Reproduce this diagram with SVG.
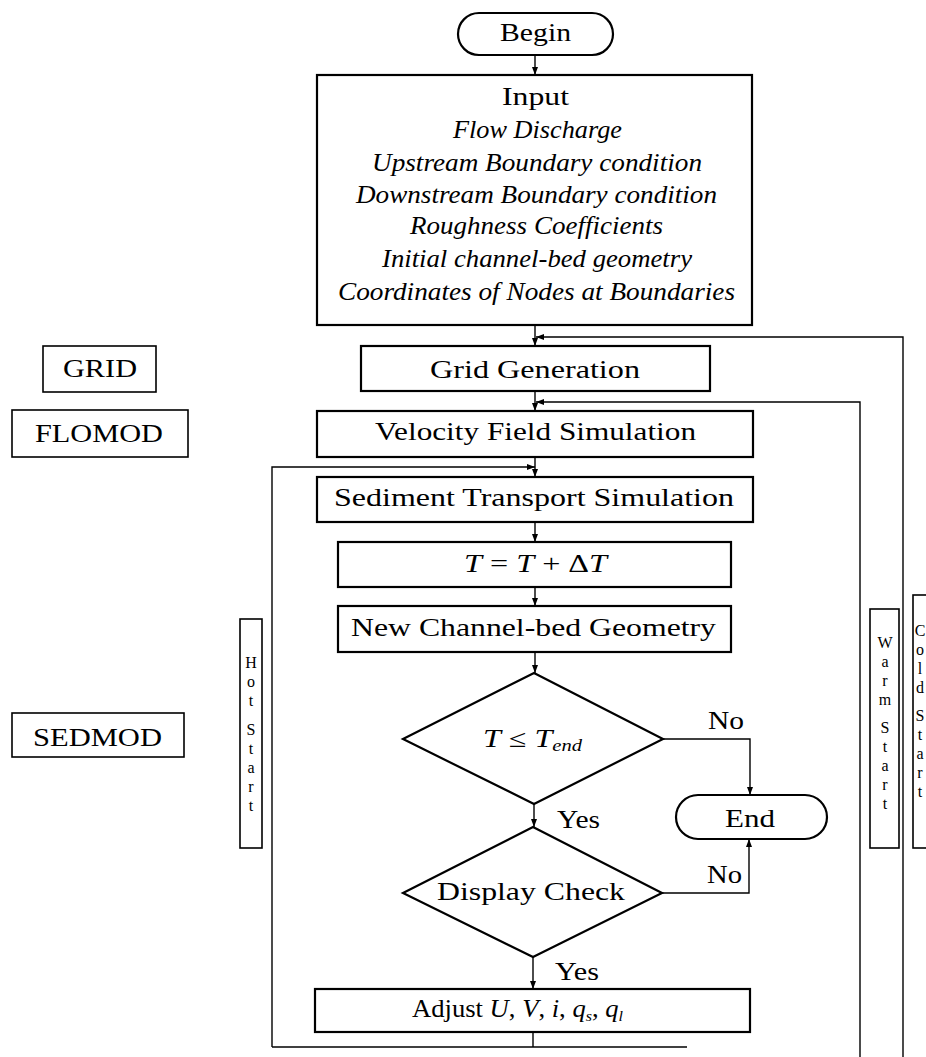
<svg xmlns="http://www.w3.org/2000/svg" width="926" height="1057" viewBox="0 0 926 1057">
<defs>
<marker id="ah" markerUnits="userSpaceOnUse" markerWidth="8" markerHeight="8" viewBox="0 0 8 8" refX="8" refY="4" orient="auto">
<path d="M0,1 L8,4 L0,7 Z" fill="#000"/>
</marker>
<style>
.box{fill:#fff;stroke:#000;stroke-width:2.2}
.lbl{fill:none;stroke:#000;stroke-width:1.6}
.c{fill:none;stroke:#000;stroke-width:1.4}
.a{marker-end:url(#ah)}
text{font-family:"Liberation Serif","DejaVu Serif",serif;font-size:25px;fill:#000}
.it{font-style:italic}
.vt{font-size:16px;text-anchor:middle}
</style>
</defs>
<rect width="926" height="1057" fill="#fff"/>

<g id="connectors">
<path class="c a" d="M535,55 V75"/>
<path class="c a" d="M535,325 V346"/>
<path class="c a" d="M535,391 V411"/>
<path class="c a" d="M535,457 V477"/>
<path class="c a" d="M535,522 V542"/>
<path class="c a" d="M535,587 V606"/>
<path class="c a" d="M535,652 V673"/>
<path class="c a" d="M534,804 V827"/>
<path class="c a" d="M533,957 V989"/>
<path class="c" d="M533,1032 V1047"/>
<path class="c" d="M272,1047 H687"/>
<path class="c a" d="M272,1047 V467 H535"/>
<path class="c a" d="M860,1057 V402 H536"/>
<path class="c a" d="M903,1057 V337 H536"/>
<path class="c a" d="M663,739 H750 V795"/>
<path class="c a" d="M662,893 H749 V839"/>
</g>

<g id="begin">
<rect class="box" x="458" y="13" width="155" height="42" rx="21" ry="21"/>
<text x="500" y="41" textLength="71" lengthAdjust="spacingAndGlyphs">Begin</text>
</g>

<g id="input">
<rect class="box" x="317" y="75" width="435" height="250"/>
<text x="502" y="105" textLength="67" lengthAdjust="spacingAndGlyphs">Input</text>
<text class="it" x="453" y="138" textLength="169" lengthAdjust="spacingAndGlyphs">Flow Discharge</text>
<text class="it" x="372" y="171" textLength="330" lengthAdjust="spacingAndGlyphs">Upstream Boundary condition</text>
<text class="it" x="356" y="203" textLength="361" lengthAdjust="spacingAndGlyphs">Downstream Boundary condition</text>
<text class="it" x="410" y="234" textLength="253" lengthAdjust="spacingAndGlyphs">Roughness Coefficients</text>
<text class="it" x="382" y="267" textLength="310" lengthAdjust="spacingAndGlyphs">Initial channel-bed geometry</text>
<text class="it" x="338" y="300" textLength="397" lengthAdjust="spacingAndGlyphs">Coordinates of Nodes at Boundaries</text>
</g>

<g id="grid-generation">
<rect class="box" x="361" y="346" width="349" height="45"/>
<text x="430" y="378" textLength="210" lengthAdjust="spacingAndGlyphs">Grid Generation</text>
</g>

<g id="velocity">
<rect class="box" x="317" y="411" width="436" height="46"/>
<text x="375" y="440" textLength="321" lengthAdjust="spacingAndGlyphs">Velocity Field Simulation</text>
</g>

<g id="sediment">
<rect class="box" x="317" y="477" width="436" height="45"/>
<text x="334" y="506" textLength="400" lengthAdjust="spacingAndGlyphs">Sediment Transport Simulation</text>
</g>

<g id="time-step">
<rect class="box" x="338" y="542" width="393" height="45"/>
<text x="464" y="572" textLength="143" lengthAdjust="spacingAndGlyphs"><tspan class="it">T</tspan> = <tspan class="it">T</tspan> + Δ<tspan class="it">T</tspan></text>
</g>

<g id="new-geometry">
<rect class="box" x="338" y="606" width="393" height="46"/>
<text x="351" y="636" textLength="365" lengthAdjust="spacingAndGlyphs">New Channel-bed Geometry</text>
</g>

<g id="decision-time">
<polygon class="box" points="534,673 663,739 534,804 403,739"/>
<text x="483" y="747" textLength="99" lengthAdjust="spacingAndGlyphs"><tspan class="it">T</tspan> ≤ <tspan class="it">T</tspan><tspan class="it" font-size="16" dy="4">end</tspan></text>
<text x="708" y="729" textLength="36" lengthAdjust="spacingAndGlyphs">No</text>
<text x="557" y="828" textLength="43" lengthAdjust="spacingAndGlyphs">Yes</text>
</g>

<g id="end">
<rect class="box" x="676" y="795" width="151" height="44" rx="22" ry="22"/>
<text x="725" y="827" textLength="50" lengthAdjust="spacingAndGlyphs">End</text>
</g>

<g id="decision-display">
<polygon class="box" points="533,827 662,893 533,957 403,893"/>
<text x="437" y="900" textLength="188" lengthAdjust="spacingAndGlyphs">Display Check</text>
<text x="707" y="883" textLength="35" lengthAdjust="spacingAndGlyphs">No</text>
<text x="555" y="980" textLength="44" lengthAdjust="spacingAndGlyphs">Yes</text>
</g>

<g id="adjust">
<rect class="box" x="315" y="989" width="435" height="43"/>
<text x="412" y="1017" textLength="211" lengthAdjust="spacingAndGlyphs">Adjust <tspan class="it">U</tspan>, <tspan class="it">V</tspan>, <tspan class="it">i</tspan>, <tspan class="it">q</tspan><tspan class="it" font-size="15" dy="4">s</tspan><tspan dy="-4">, </tspan><tspan class="it">q</tspan><tspan class="it" font-size="15" dy="4">l</tspan></text>
</g>

<g id="label-grid">
<rect class="lbl" x="43" y="346" width="113" height="46"/>
<text x="63" y="377" textLength="74" lengthAdjust="spacingAndGlyphs">GRID</text>
</g>

<g id="label-flomod">
<rect class="lbl" x="12" y="410" width="176" height="47"/>
<text x="35" y="442" textLength="128" lengthAdjust="spacingAndGlyphs">FLOMOD</text>
</g>

<g id="label-sedmod">
<rect class="lbl" x="12" y="713" width="172" height="44"/>
<text x="33" y="746" textLength="129" lengthAdjust="spacingAndGlyphs">SEDMOD</text>
</g>

<g id="label-hot-start">
<rect class="lbl" x="240" y="619" width="22" height="229"/>
<text class="vt"><tspan x="251" y="668">H</tspan><tspan x="251" y="687">o</tspan><tspan x="251" y="706">t</tspan><tspan x="251" y="735">S</tspan><tspan x="251" y="754">t</tspan><tspan x="251" y="773">a</tspan><tspan x="251" y="792">r</tspan><tspan x="251" y="811">t</tspan></text>
</g>

<g id="label-warm-start">
<rect class="lbl" x="870" y="609" width="29" height="239"/>
<text class="vt"><tspan x="885" y="648">W</tspan><tspan x="885" y="667">a</tspan><tspan x="885" y="686">r</tspan><tspan x="885" y="705">m</tspan><tspan x="885" y="733">S</tspan><tspan x="885" y="752">t</tspan><tspan x="885" y="771">a</tspan><tspan x="885" y="790">r</tspan><tspan x="885" y="809">t</tspan></text>
</g>

<g id="label-cold-start">
<rect class="lbl" x="913" y="595" width="30" height="253"/>
<text class="vt"><tspan x="920" y="636">C</tspan><tspan x="920" y="655">o</tspan><tspan x="920" y="674">l</tspan><tspan x="920" y="693">d</tspan><tspan x="920" y="721">S</tspan><tspan x="920" y="740">t</tspan><tspan x="920" y="759">a</tspan><tspan x="920" y="778">r</tspan><tspan x="920" y="797">t</tspan></text>
</g>
</svg>
